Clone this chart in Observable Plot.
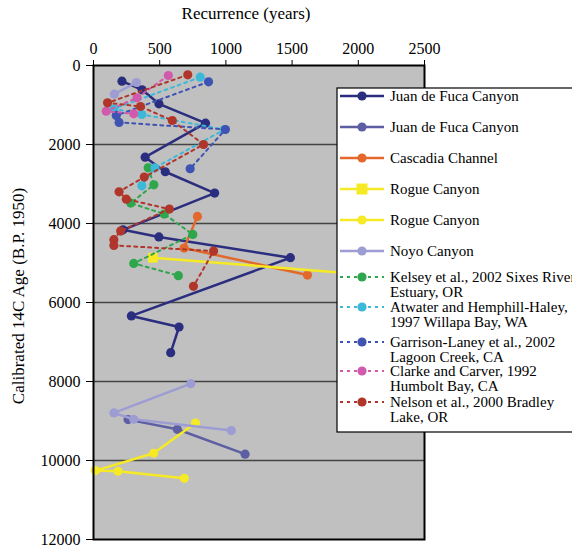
<!DOCTYPE html>
<html><head><meta charset="utf-8">
<script src="https://cdn.jsdelivr.net/npm/d3@7"></script>
<script src="https://cdn.jsdelivr.net/npm/@observablehq/plot@0.6"></script>
<style>body{margin:0;background:#fff} svg, svg text {font-family: "Liberation Serif", "Times New Roman", serif !important;}</style>
</head><body><div id="chart"></div>
<script>
// ---- data (recurrence years vs calibrated 14C age) ----
const xTicks = [0, 500, 1000, 1500, 2000, 2500];
const yTicks = [0, 2000, 4000, 6000, 8000, 10000, 12000];
const gridY = [2000, 4000, 6000, 8000, 10000];

const jdf1X = [215, 367, 494, 846, 390, 542, 915, 223, 494, 1487, 286, 646, 583];
const jdf1Y = [397, 615, 970, 1460, 2320, 2690, 3230, 4160, 4340, 4866, 6340, 6620, 7270];
const jdf2X = [261, 633, 1145];
const jdf2Y = [8965, 9210, 9840];
const cascX = [785, 684, 1616];
const cascY = [3820, 4622, 5305];
const rogueSqX = [448, 2500];
const rogueSqY = [4866, 5410];
const rogueX = [770, 454, 15, 185, 686];
const rogueY = [9050, 9816, 10255, 10272, 10449];
const noyoX = [324, 157, null, 735, 154, 304, 1041];
const noyoY = [430, 726, null, 8054, 8796, 8956, 9243];
const kelseyX = [413, 456, 281, 534, 750, 304, 641];
const kelseyY = [2590, 3020, 3483, 3762, 4276, 5010, 5320];
const atwaterX = [806, 154, 365, 990, 464, 365];
const atwaterY = [296, 1096, 1240, 1620, 2590, 3045];
const garrisonX = [869, 172, 193, 996, 730];
const garrisonY = [413, 1265, 1442, 1620, 2614];
const clarkeX = [565, 329, 96, 304];
const clarkeY = [253, 818, 1156, 1223];
const nelsonX = [712, 106, 355, 595, 831, 383, 193, 248, 573, 205, 154, 154, 907, 755];
const nelsonY = [236, 945, 1038, 1393, 2000, 2825, 3197, 3383, 3636, 4192, 4410, 4554, 4698, 5591];

const seriesLabels = [
  ["Juan de Fuca Canyon"],
  ["Juan de Fuca Canyon"],
  ["Cascadia Channel"],
  ["Rogue Canyon"],
  ["Rogue Canyon"],
  ["Noyo Canyon"],
  ["Kelsey et al., 2002 Sixes River", "Estuary, OR"],
  ["Atwater and Hemphill-Haley,", "1997 Willapa Bay, WA"],
  ["Garrison-Laney et al., 2002", "Lagoon Creek, CA"],
  ["Clarke and Carver, 1992", "Humbolt Bay, CA"],
  ["Nelson et al., 2000 Bradley", "Lake, OR"]
];

// ---- styles ----
const series = [
  {xs: jdf1X, ys: jdf1Y, color: "#2b2d7f", dashed: false, symbol: "circle"},
  {xs: jdf2X, ys: jdf2Y, color: "#5e5ea3", dashed: false, symbol: "circle"},
  {xs: cascX, ys: cascY, color: "#e2682c", dashed: false, symbol: "circle"},
  {xs: rogueSqX, ys: rogueSqY, color: "#f5ea25", dashed: false, symbol: "square"},
  {xs: rogueX, ys: rogueY, color: "#f5ea25", dashed: false, symbol: "circle"},
  {xs: noyoX, ys: noyoY, color: "#9d9dd4", dashed: false, symbol: "circle"},
  {xs: kelseyX, ys: kelseyY, color: "#2ea64b", dashed: true, symbol: "circle"},
  {xs: atwaterX, ys: atwaterY, color: "#3cb9d8", dashed: true, symbol: "circle"},
  {xs: garrisonX, ys: garrisonY, color: "#3e53b2", dashed: true, symbol: "circle"},
  {xs: clarkeX, ys: clarkeY, color: "#d25aad", dashed: true, symbol: "circle"},
  {xs: nelsonX, ys: nelsonY, color: "#b0362b", dashed: true, symbol: "circle"}
];
series.forEach((s, i) => {
  s.label = seriesLabels[i];
  s.data = s.xs.map((x, j) => ({x, y: s.ys[j]}));
});

const marks = [
  Plot.frame({fill: "#c0c0c0"}),
  Plot.ruleY(gridY, {stroke: "#444", strokeWidth: 1.5})
];
for (const s of series) {
  marks.push(Plot.line(s.data, {x: "x", y: "y", stroke: s.color,
    strokeWidth: s.dashed ? 2 : 2.5, strokeDasharray: s.dashed ? "3,4" : null}));
  marks.push(Plot.dot(s.data.filter(d => d.x != null), {x: "x", y: "y", fill: s.color,
    r: s.symbol === "square" ? 5.5 : 4.6, symbol: s.symbol}));
}
marks.push(Plot.frame({stroke: "#000", strokeWidth: 2}));
marks.push(Plot.axisX(xTicks, {anchor: "top", tickSize: 6, tickPadding: 6, label: null, stroke: "#000", tickFormat: d3.format("d"), fontSize: 16}));
marks.push(Plot.axisY(yTicks, {anchor: "left", tickSize: 7, tickPadding: 6, label: null, stroke: "#000", tickFormat: d3.format("d"), fontSize: 16}));

const svg = Plot.plot({
  width: 572, height: 548,
  marginLeft: 93, marginRight: 148, marginTop: 65, marginBottom: 9,
  x: {domain: [0, 2500]},
  y: {domain: [0, 12000], reverse: true},
  style: {fontSize: "16px", color: "#000", background: "#fff", overflow: "hidden"},
  marks
});

const root = d3.select(svg);
root.append("text").attr("x", 246).attr("y", 19).attr("text-anchor", "middle")
  .attr("font-size", 17).attr("fill", "#000").text("Recurrence (years)");
root.append("text").attr("transform", "translate(24,296) rotate(-90)").attr("text-anchor", "middle")
  .attr("font-size", 17).attr("fill", "#000").text("Calibrated 14C Age (B.P. 1950)");

// legend
const lg = root.append("g").attr("text-anchor", "start");
lg.append("rect").attr("x", 337).attr("y", 88).attr("width", 260).attr("height", 344)
  .attr("fill", "#fff").attr("stroke", "#000").attr("stroke-width", 1.2);
const rowY = [96, 127, 158, 189, 220, 251, 277, 307, 342, 371, 402];
series.forEach((s, i) => {
  const y = rowY[i];
  lg.append("line").attr("x1", 340).attr("x2", 384).attr("y1", y).attr("y2", y)
    .attr("stroke", s.color).attr("stroke-width", s.dashed ? 2 : 2.5)
    .attr("stroke-dasharray", s.dashed ? "3,4" : null);
  if (s.symbol === "square") {
    lg.append("rect").attr("x", 356.5).attr("y", y - 5.5).attr("width", 11).attr("height", 11).attr("fill", s.color);
  } else {
    lg.append("circle").attr("cx", 362).attr("cy", y).attr("r", 4.6).attr("fill", s.color);
  }
  const t = lg.append("text").attr("x", 390).attr("y", y + 5).attr("font-size", 15)
    .attr("fill", "#000").attr("text-anchor", "start");
  s.label.forEach((line, k) => {
    t.append("tspan").attr("x", 390).attr("dy", k === 0 ? 0 : 14.5).text(line);
  });
});

document.getElementById("chart").appendChild(svg);
</script>
</body></html>
